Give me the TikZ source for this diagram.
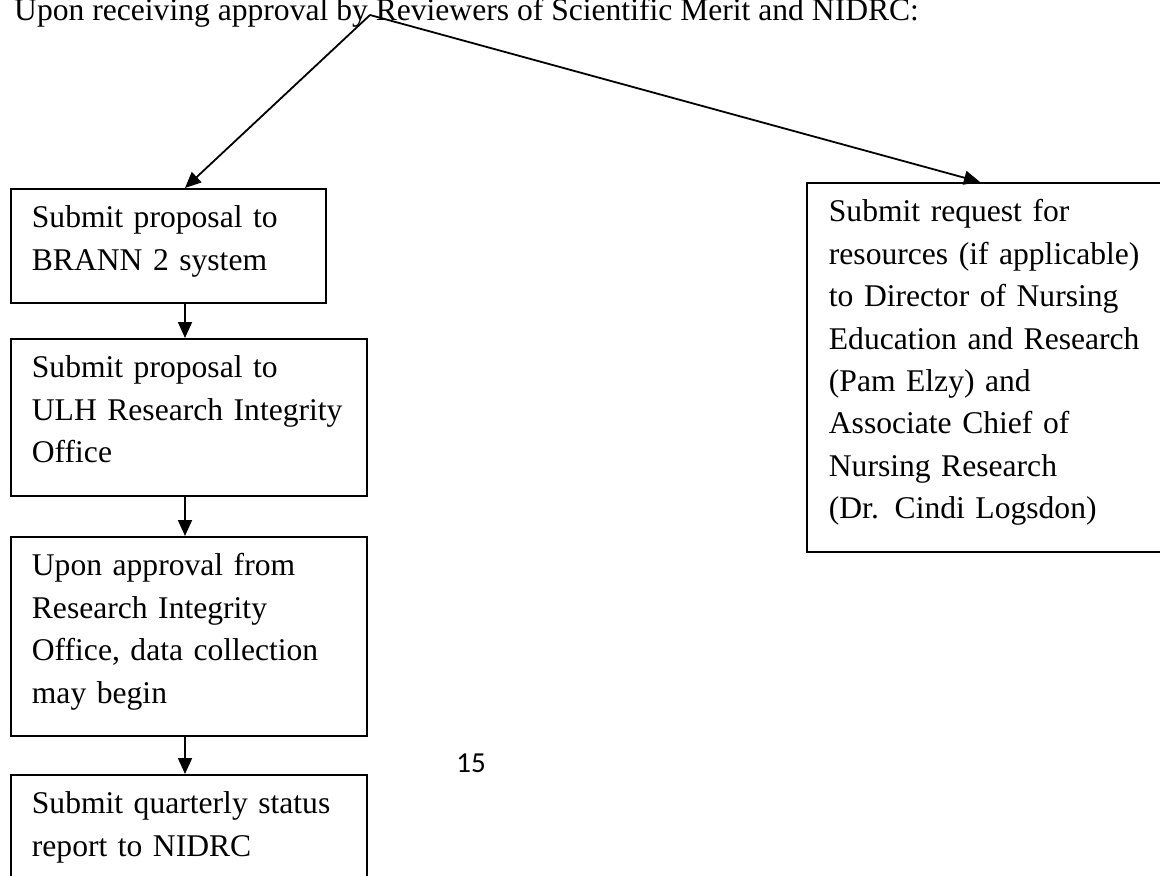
\documentclass[tikz,border=0pt]{standalone}
\usepackage{fontspec}
\setmainfont{Liberation Serif}
\newfontfamily\pagenumfont{Carlito}
\usetikzlibrary{arrows.meta}
\newcommand{\topst}{\rule{0pt}{39pt}}
\newcommand{\botst}{\rule[-33pt]{0pt}{33pt}}
\tikzset{
  flowbox/.style={draw, line width=1.8pt, anchor=north west, align=left,
    inner xsep=21pt, inner ysep=0pt, font=\fontsize{31.6pt}{42.4pt}\selectfont},
  arr/.style={line width=1.8pt, -{Triangle[length=16pt,width=14pt]}},
}
\begin{document}
\begin{tikzpicture}[x=1pt,y=-1pt]
\clip (0,0) rectangle (1160,876);
\fill[white] (0,0) rectangle (1160,876);

\node[anchor=base west, inner sep=0pt, font=\fontsize{31.6pt}{38pt}\selectfont] (title) at (14,20)
  {Upon receiving approval by Reviewers of Scientific Merit and NIDRC:};

\node[flowbox, text width=273pt] (b1) at (10,188)
  {\topst Submit proposal to\\BRANN 2 system\botst};
\node[flowbox, text width=314pt] (b2) at (10,338)
  {\topst Submit proposal to\\ULH Research Integrity\\Office\botst};
\node[flowbox, text width=314pt] (b3) at (10,536)
  {\topst Upon approval from\\Research Integrity\\Office, data collection\\may begin\botst};
\node[flowbox, text width=314pt] (b4) at (10,774)
  {\topst Submit quarterly status\\report to NIDRC\botst};
\node[flowbox, text width=330pt, inner xsep=22pt] (rb) at (806,182)
  {\topst Submit request for\\resources (if applicable)\\to Director of Nursing\\Education and Research\\(Pam Elzy) and\\Associate Chief of\\Nursing Research\\(Dr. Cindi Logsdon)\botst};

\node[font=\pagenumfont\fontsize{29pt}{34pt}\selectfont, inner sep=0pt] (pg) at (471,763) {15};

\coordinate (apex) at (370,15);
\coordinate (ax) at (185,0);
\coordinate (rx) at (980,0);

\draw[arr] (apex) -- (b1.north -| ax);
\draw[arr] (apex) -- (rb.north -| rx);
\draw[arr] (b1.south -| ax) -- (b2.north -| ax);
\draw[arr] (b2.south -| ax) -- (b3.north -| ax);
\draw[arr] (b3.south -| ax) -- (b4.north -| ax);
\end{tikzpicture}
\end{document}
